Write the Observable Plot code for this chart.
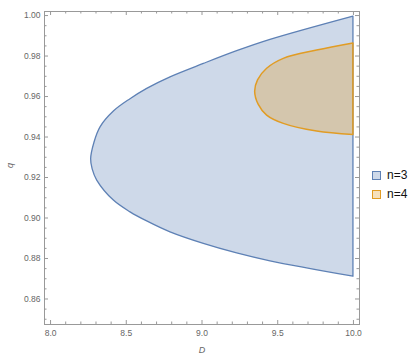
<!DOCTYPE html>
<html><head><meta charset="utf-8">
<script src="https://cdn.jsdelivr.net/npm/d3@7"></script>
<script src="https://cdn.jsdelivr.net/npm/@observablehq/plot@0.6"></script>
<style>
body{margin:0;background:#fff;}
#wrap{position:relative;width:412px;height:359px;font-family:"Liberation Sans",Arial,sans-serif;}
.leg{position:absolute;left:372px;height:12px;font-size:12px;line-height:12px;color:#111;display:flex;align-items:center;}
.sw{width:7px;height:7px;margin-right:6px;border:1px solid;}
</style></head><body><div id="wrap"></div>
<script>
// Series names
const seriesNames = ["n=3", "n=4"];
const seriesColors = ["#5E81B5", "#E19C24"];

// Region n=3 boundary: q (sorted) and left boundary D
const n3_q = [0.8710, 0.8786, 0.8825, 0.8872, 0.8929, 0.8983, 0.9028, 0.9086, 0.9185, 0.9240, 0.9290, 0.9372, 0.9448, 0.9526, 0.9587, 0.9638, 0.9695, 0.9761, 0.9824, 0.9880, 0.9995];
const n3_D = [10.0, 9.452, 9.232, 9.012, 8.792, 8.638, 8.528, 8.418, 8.308, 8.278, 8.268, 8.290, 8.330, 8.418, 8.528, 8.638, 8.792, 9.012, 9.232, 9.452, 10.0];

// Region n=4 boundary
const n4_q = [0.9410, 0.9427, 0.9465, 0.9506, 0.9560, 0.9624, 0.9680, 0.9737, 0.9786, 0.9827, 0.9862];
const n4_D = [10.0, 9.760, 9.540, 9.430, 9.374, 9.351, 9.370, 9.430, 9.540, 9.760, 10.0];

// Right edge of both regions
const Dmax = 10.0;

// Tick labels
const xTicks = [8.0, 8.5, 9.0, 9.5, 10.0];
const yTicks = [0.86, 0.88, 0.90, 0.92, 0.94, 0.96, 0.98, 1.00];

const xDomain = [7.96, 10.04];
const yDomain = [0.8474, 1.002];

const n3 = n3_q.map((q, i) => ({q, D: n3_D[i]}));
const n4 = n4_q.map((q, i) => ({q, D: n4_D[i]}));

const W = 412, H = 359;
const mL = 44, mR = 53, mT = 11, mB = 35;
const fw = W - mL - mR, fh = H - mT - mB;

const xMinor = d3.range(7.9, 10.1, 0.1).map(v => +v.toFixed(2)).filter(v => v > xDomain[0] && v < xDomain[1] && !xTicks.includes(v));
const yMinor = d3.range(0.845, 1.005, 0.005).map(v => +v.toFixed(3)).filter(v => v > yDomain[0] && v < yDomain[1] && !yTicks.some(t => Math.abs(t - v) < 1e-9));

const tc = "#999";
const major = 4, minor = 2.5;

const chart = Plot.plot({
  width: W, height: H,
  marginLeft: mL, marginRight: mR, marginTop: mT, marginBottom: mB,
  x: {domain: xDomain},
  y: {domain: yDomain},
  style: {fontFamily: '"Liberation Sans", Arial, sans-serif', background: "#fff"},
  marks: [
    Plot.areaX(n3, {y: "q", x1: "D", x2: Dmax, curve: "catmull-rom", fill: seriesColors[0], fillOpacity: 0.3, stroke: seriesColors[0], strokeWidth: 1.3}),
    Plot.areaX(n4, {y: "q", x1: "D", x2: Dmax, curve: "catmull-rom", fill: seriesColors[1], fillOpacity: 0.3, stroke: seriesColors[1], strokeWidth: 1.5}),
    Plot.frame({stroke: tc, strokeWidth: 1}),
    // bottom & top ticks
    Plot.tickX(xTicks, {x: d => d, stroke: tc, insetTop: fh - major}),
    Plot.tickX(xMinor, {x: d => d, stroke: tc, insetTop: fh - minor}),
    Plot.tickX(xTicks, {x: d => d, stroke: tc, insetBottom: fh - major}),
    Plot.tickX(xMinor, {x: d => d, stroke: tc, insetBottom: fh - minor}),
    // left & right ticks
    Plot.tickY(yTicks, {y: d => d, stroke: tc, insetRight: fw - major}),
    Plot.tickY(yMinor, {y: d => d, stroke: tc, insetRight: fw - minor}),
    Plot.tickY(yTicks, {y: d => d, stroke: tc, insetLeft: fw - major}),
    Plot.tickY(yMinor, {y: d => d, stroke: tc, insetLeft: fw - minor}),
    Plot.axisX(xTicks, {tickSize: 0, tickPadding: 5, tickFormat: d3.format(".1f"), fontSize: 8.5, fill: "#666", label: null}),
    Plot.axisY(yTicks, {tickSize: 0, tickPadding: 4, tickFormat: d3.format(".2f"), fontSize: 8.5, fill: "#666", label: null}),
    Plot.text(["D"], {frameAnchor: "bottom", dy: 28, fontStyle: "italic", fontSize: 9, fill: "#666"}),
    Plot.text(["q"], {frameAnchor: "left", dx: -34, rotate: -90, fontStyle: "italic", fontSize: 9, fill: "#666"})
  ]
});

const wrap = document.getElementById("wrap");
wrap.appendChild(chart);
const legendTops = [169, 188];
seriesNames.forEach((name, i) => {
  const item = document.createElement("div");
  item.className = "leg";
  item.style.top = legendTops[i] + "px";
  const sw = document.createElement("span");
  sw.className = "sw";
  sw.style.borderColor = seriesColors[i];
  const c = d3.color(seriesColors[i]);
  sw.style.background = `rgba(${c.r},${c.g},${c.b},0.3)`;
  item.appendChild(sw);
  item.appendChild(document.createTextNode(name));
  wrap.appendChild(item);
});
</script></body></html>
